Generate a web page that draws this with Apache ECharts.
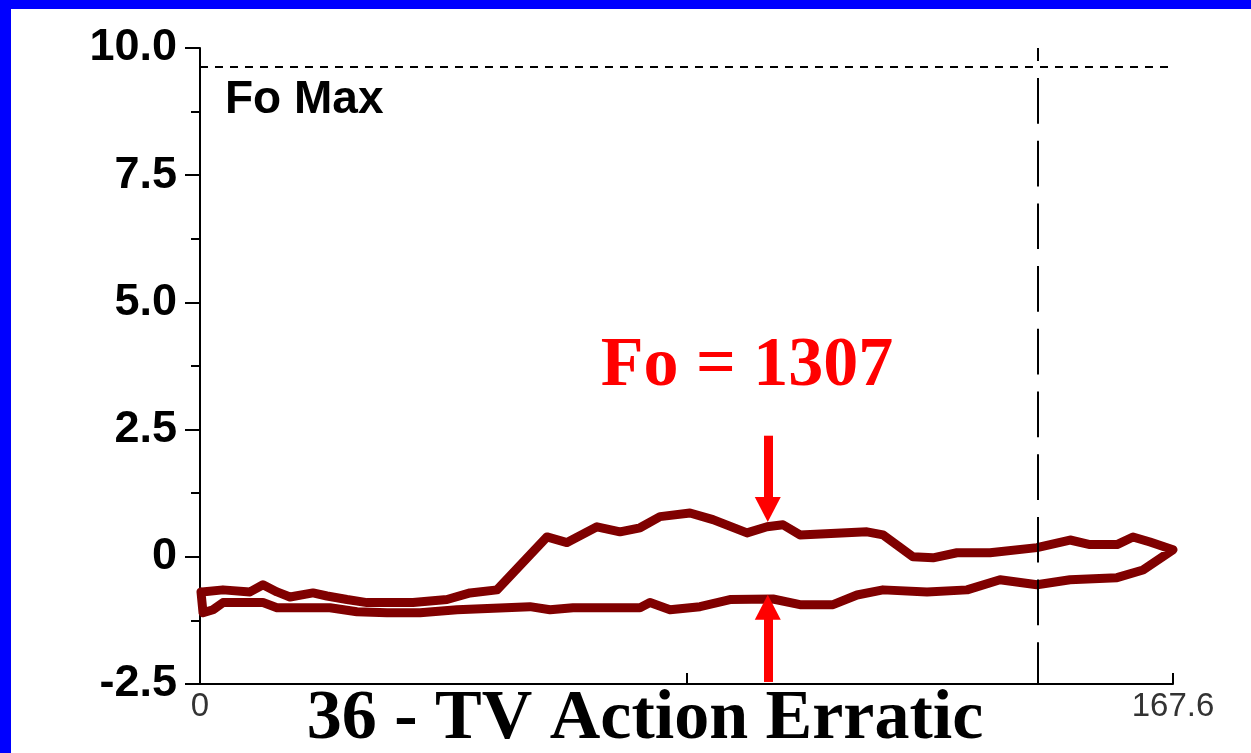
<!DOCTYPE html>
<html>
<head>
<meta charset="utf-8">
<script src="https://cdn.jsdelivr.net/npm/echarts@6/dist/echarts.min.js"></script>
<style>
  html, body { margin: 0; padding: 0; background: #ffffff; }
  #chart { width: 1251px; height: 753px; }
</style>
</head>
<body>
<div id="chart"></div>
<script>
// ---- Data ----
const chartTitle = '36 - TV Action Erratic';
const annotationText = 'Fo = 1307';
const maxLabel = 'Fo Max';
const foMaxValue = 9.63;
const cursorX = 144.3;
const xMax = 167.6;
const yTicks = [-2.5, 0, 2.5, 5.0, 7.5, 10.0];
const yTickLabels = ['-2.5', '0', '2.5', '5.0', '7.5', '10.0'];
const xTickLabels = ['0', '', '167.6'];

// loop trace: outbound (upper) path then return (lower) path
const loopX = [0.34, 3.96, 8.61, 10.85, 13.26, 15.50, 19.46, 21.88, 25.32, 28.77, 36.69, 42.55, 46.51, 51.16,
  59.77, 63.22, 68.38, 72.35, 75.79, 79.24, 84.40, 88.36, 94.22, 97.67, 100.42, 103.35, 114.89, 117.65,
  122.82, 126.26, 130.39, 136.08, 144.17, 149.86, 153.30, 157.95, 160.71, 163.64, 167.60,
  162.43, 157.95, 149.86, 144.17, 137.80, 132.12, 125.23, 117.65, 113.17, 109.04, 103.35, 98.70, 91.29,
  86.13, 80.96, 77.51, 75.79, 64.25, 60.29, 56.84, 44.27, 37.90, 32.21, 27.04, 22.39, 13.26, 10.85,
  3.96, 2.24, 0.52, 0.17];
const loopY = [-0.69, -0.65, -0.69, -0.55, -0.69, -0.79, -0.71, -0.77, -0.84, -0.90, -0.90, -0.84, -0.71, -0.65,
  0.39, 0.28, 0.59, 0.49, 0.57, 0.79, 0.86, 0.73, 0.47, 0.59, 0.63, 0.43, 0.49, 0.43,
  0.00, -0.02, 0.08, 0.08, 0.18, 0.33, 0.24, 0.24, 0.39, 0.29, 0.14,
  -0.26, -0.41, -0.45, -0.55, -0.45, -0.65, -0.69, -0.65, -0.75, -0.94, -0.94, -0.83, -0.84,
  -0.98, -1.04, -0.90, -1.00, -1.00, -1.04, -0.98, -1.04, -1.10, -1.10, -1.08, -1.00, -1.00, -0.90,
  -0.90, -1.04, -1.10, -0.69];

// annotation arrows (data coordinates): [x, yStart, yEnd]
const arrowDown = [97.8, 2.38, 0.93];
const arrowUp = [97.8, -2.46, -0.99];

const loopData = loopX.map((x, i) => [x, loopY[i]]);

const chart = echarts.init(document.getElementById('chart'), null, { renderer: 'canvas' });

const option = {
  animation: false,
  backgroundColor: '#ffffff',
  grid: { left: 200, right: 78, top: 48, bottom: 69, containLabel: false },
  xAxis: {
    type: 'value',
    min: 0,
    max: xMax,
    interval: xMax / 2,
    axisLine: { show: true, onZero: false, lineStyle: { color: '#000', width: 2 } },
    axisTick: { show: true, inside: true, length: 11, lineStyle: { color: '#000', width: 2 } },
    axisLabel: {
      margin: 6,
      fontFamily: 'Liberation Sans, Arial, sans-serif',
      fontSize: 33,
      color: '#333',
      formatter: (v, i) => xTickLabels[i] !== undefined ? xTickLabels[i] : ''
    },
    splitLine: { show: false }
  },
  yAxis: {
    type: 'value',
    min: yTicks[0],
    max: yTicks[yTicks.length - 1],
    interval: 2.5,
    axisLine: { show: true, onZero: false, lineStyle: { color: '#000', width: 2 } },
    axisTick: { show: true, length: 15, lineStyle: { color: '#000', width: 2 } },
    minorTick: { show: true, splitNumber: 2, length: 9, lineStyle: { color: '#000', width: 2 } },
    axisLabel: {
      margin: 23,
      fontFamily: 'Liberation Sans, Arial, sans-serif',
      fontWeight: 'bold',
      fontSize: 45,
      color: '#000',
      formatter: (v) => {
        const i = yTicks.findIndex(t => Math.abs(t - v) < 1e-6);
        return i >= 0 ? yTickLabels[i] : '';
      }
    },
    splitLine: { show: false }
  },
  series: [
    {
      type: 'line',
      data: loopData,
      showSymbol: false,
      symbol: 'none',
      lineStyle: { color: '#800000', width: 9, join: 'round', cap: 'round' },
      silent: true,
      z: 3
    },
    {
      type: 'line',
      data: [],
      silent: true,
      markLine: {
        silent: true,
        animation: false,
        symbol: ['none', 'none'],
        label: { show: false },
        data: [
          [
            { coord: [0, foMaxValue], lineStyle: { color: '#000', width: 2, type: [8, 7] } },
            { coord: [xMax, foMaxValue] }
          ],
          [
            { coord: [cursorX, yTicks[yTicks.length - 1]], lineStyle: { color: '#000', width: 2, type: [45.7, 17], dashOffset: 32.7 } },
            { coord: [cursorX, yTicks[0]] }
          ]
        ]
      },
      z: 2
    },
    {
      type: 'line',
      data: [],
      silent: true,
      markLine: {
        silent: true,
        animation: false,
        symbol: ['none', 'triangle'],
        symbolSize: [26, 25],
        label: { show: false },
        lineStyle: { color: '#ff0000', width: 9, type: 'solid' },
        itemStyle: { color: '#ff0000' },
        data: [
          [ { coord: [arrowDown[0], arrowDown[1]] }, { coord: [arrowDown[0], arrowDown[2]] } ],
          [ { coord: [arrowUp[0], arrowUp[1]] }, { coord: [arrowUp[0], arrowUp[2]] } ]
        ]
      },
      z: 4
    }
  ],
  graphic: [
    { type: 'rect', left: 0, top: 0, shape: { width: 11, height: 753 }, style: { fill: '#0000ff' }, silent: true },
    { type: 'rect', left: 0, top: 0, shape: { width: 1251, height: 9 }, style: { fill: '#0000ff' }, silent: true },
    {
      type: 'text', x: 225, y: 100, silent: true,
      style: { text: maxLabel, fill: '#000', font: 'bold 46px "Liberation Sans", Arial, sans-serif', verticalAlign: 'middle', align: 'left' }
    },
    {
      type: 'text', x: 747, y: 367, silent: true, z: 10,
      style: { text: annotationText, fill: '#ff0000', font: 'bold 70px "Liberation Serif", "Times New Roman", serif', verticalAlign: 'middle', align: 'center' }
    },
    {
      type: 'text', x: 645, y: 720, silent: true, z: 10,
      style: { text: chartTitle, fill: '#000', font: 'bold 70px "Liberation Serif", "Times New Roman", serif', verticalAlign: 'middle', align: 'center' }
    }
  ]
};

chart.setOption(option);
</script>
</body>
</html>
